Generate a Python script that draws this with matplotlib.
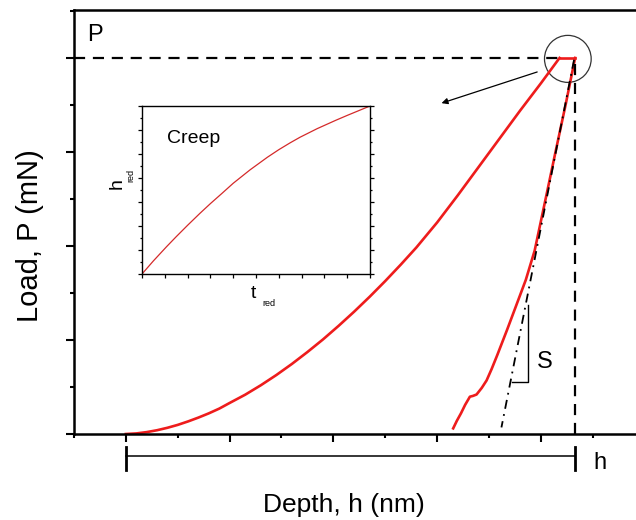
import numpy as np
import matplotlib
matplotlib.use("Agg")
import matplotlib.pyplot as plt
from matplotlib.patches import Ellipse
from matplotlib.ticker import MultipleLocator

plt.rcParams['font.family'] = ['Liberation Sans', 'DejaVu Sans']

# Loading branch (depth in nm, load in mN)
h_load = [0, 10, 20, 30, 40, 50, 60, 70, 80, 90, 100, 115, 130, 145, 160, 175,
          190, 205, 220, 235, 250, 265, 280, 300, 320, 340, 360, 380, 400, 418]
P_load = [0, 0.006, 0.02, 0.04, 0.066, 0.097, 0.134, 0.175, 0.22, 0.27, 0.33,
          0.418, 0.518, 0.627, 0.745, 0.872, 1.006, 1.150, 1.301, 1.460, 1.627,
          1.802, 1.984, 2.25, 2.54, 2.84, 3.14, 3.44, 3.73, 4.0]

# Hold at maximum load
h_hold = [418, 433]
P_hold = [4.0, 4.0]

# Unloading branch
h_unload = [433, 424, 414.5, 404, 394, 385.5, 376, 367.5, 358, 352.5, 347.7, 343,
            338, 334.5, 331.6, 327, 323, 319, 315.5]
P_unload = [4.0, 3.51, 3.02, 2.47, 1.95, 1.64, 1.36, 1.11, 0.84, 0.69, 0.57, 0.49,
            0.42, 0.405, 0.397, 0.31, 0.22, 0.14, 0.06]

# Tangent to the top of the unloading curve (contact stiffness S)
h_tangent = [432, 362]
P_tangent = [3.98, 0.07]

P_max = 4.0
h_max = 433

# Creep inset (reduced depth vs reduced time)
t_red = [0, 0.05, 0.108, 0.15, 0.2, 0.254, 0.3, 0.35, 0.4, 0.474, 0.55, 0.6,
         0.65, 0.693, 0.768, 0.85, 0.9, 0.95, 1.0]
h_red = [0, 0.078, 0.163, 0.222, 0.29, 0.361, 0.419, 0.479, 0.54, 0.62, 0.695,
         0.74, 0.781, 0.814, 0.865, 0.915, 0.944, 0.972, 1.0]

W, H = 636, 520
fig = plt.figure(figsize=(W / 100, H / 100), dpi=100)

# Main axes
L, R, T, B = 74, 636, 10, 434
ax = fig.add_axes([L / W, 1 - B / H, (R - L) / W, (B - T) / H])
ax.set_xlim(-50, 491.7)
ax.set_ylim(0, 4.51)
ax.spines['right'].set_visible(False)
for s in ('left', 'bottom', 'top'):
    ax.spines[s].set_linewidth(1.8)
ax.xaxis.set_major_locator(MultipleLocator(100))
ax.xaxis.set_minor_locator(MultipleLocator(50))
ax.yaxis.set_major_locator(MultipleLocator(1))
ax.yaxis.set_minor_locator(MultipleLocator(0.5))
ax.tick_params(which='both', direction='out', top=False, right=False,
               labelbottom=False, labelleft=False, width=1.5)
ax.tick_params(which='major', length=6)
ax.tick_params(which='minor', length=3)

red = '#ee1c1c'
ax.plot(h_load, P_load, color=red, lw=1.9, solid_joinstyle='round')
ax.plot(h_hold, P_hold, color=red, lw=1.9)
ax.plot(h_unload, P_unload, color=red, lw=1.9, solid_joinstyle='round')
ax.plot(h_tangent, P_tangent, color='black', lw=1.3, ls=(0, (5, 3, 1, 3)))

# Reference dashed lines at P_max and h_max
ax.plot([-50, h_load[-1]], [P_max, P_max], color='black', lw=1.6,
        ls=(0, (5, 3.5)), clip_on=False)
ax.plot([h_max, h_max], [0, P_max], color='black', lw=1.6, ls=(0, (5, 3.5)))

# Stiffness triangle
ax.plot([372, 387.5, 387.5], [0.553, 0.553, 1.372], color='black', lw=1.0)
ax.text(404, 0.77, 'S', fontsize=17, ha='center', va='center')

# Circle around the hold segment and pointer arrow
ax.add_patch(Ellipse((426, 3.99), 45, 0.5, fill=False, ec='#333333', lw=0.9))
ax.annotate('', xy=(301.7, 3.51), xytext=(399, 3.86),
            arrowprops=dict(arrowstyle='-|>', color='black', lw=0.9,
                            mutation_scale=9))

# Total depth bar under the axis
ax.plot([0, h_max], [-0.234, -0.234], color='black', lw=1.1, clip_on=False)
for xe in (0, h_max):
    ax.plot([xe, xe], [-0.138, -0.383], color='black', lw=2.0, clip_on=False)
ax.text(457, -0.31, 'h', fontsize=17, ha='center', va='center')
ax.text(-29.9, 4.24, 'P', fontsize=17, ha='center', va='center')

fig.text(344 / W, 1 - 505 / H, 'Depth, h (nm)', fontsize=19, ha='center', va='center')
fig.text(30 / W, 1 - 236 / H, 'Load, P (mN)', fontsize=21, ha='center', va='center',
         rotation=90)

# Creep inset
iL, iR, iT, iB = 142, 370, 106, 274
ins = fig.add_axes([iL / W, 1 - iB / H, (iR - iL) / W, (iB - iT) / H])
ins.set_xlim(0, 1)
ins.set_ylim(0, 1)
ins.plot(t_red, h_red, color='#d42a2a', lw=0.9)
for s in ins.spines.values():
    s.set_linewidth(1.0)
ins.set_xticks(np.linspace(0, 1, 11))
ins.set_yticks(np.linspace(0, 1, 8))
ins.set_yticks(np.linspace(0, 1, 15), minor=True)
ins.tick_params(which='both', direction='out', labelbottom=False, labelleft=False,
                width=0.9, top=False)
ins.tick_params(which='major', length=3)
ins.tick_params(which='minor', length=1.5)
ins.tick_params(axis='y', which='both', right=True, labelright=False)
ins.text(0.11, 0.804, 'Creep', fontsize=14, ha='left', va='center',
         transform=ins.transAxes)
ins.text(-0.11, 0.536, 'h', fontsize=14, ha='center', va='center', rotation=90,
         transform=ins.transAxes)
ins.text(-0.05, 0.585, 'red', fontsize=6.5, ha='center', va='center', rotation=90,
         transform=ins.transAxes)
ins.text(0.489, -0.116, 't', fontsize=14, ha='center', va='center',
         transform=ins.transAxes)
ins.text(0.555, -0.175, 'red', fontsize=6.5, ha='center', va='center',
         transform=ins.transAxes)

fig.savefig('out.png', dpi=100)
